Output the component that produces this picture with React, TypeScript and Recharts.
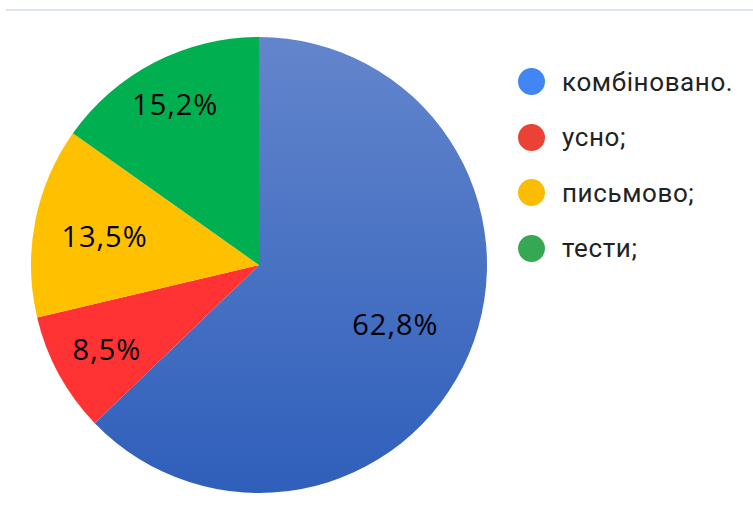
import { PieChart, Pie, Cell, Legend } from "recharts"

const categories = ["комбіновано.", "усно;", "письмово;", "тести;"]
const shares = [62.8, 8.5, 13.5, 15.2]

const SLICE_FILLS = ["url(#blueFade)", "#ff3333", "#ffc000", "#00b050"]
const LEGEND_COLORS = ["#4285f4", "#ea4335", "#fbbc04", "#34a853"]
// label distance from centre, as a share of the radius (Excel best-fit placement)
const LABEL_RADIUS = [0.65, 0.76, 0.69, 0.8]

const data = categories.map((name, i) => ({ name, value: shares[i] }))

const RADIAN = Math.PI / 180

const renderLabel = (props: any) => {
  const { cx, cy, midAngle, outerRadius, value, index } = props
  const r = outerRadius * LABEL_RADIUS[index]
  const x = cx + r * Math.cos(-midAngle * RADIAN)
  const y = cy + r * Math.sin(-midAngle * RADIAN)
  return (
    <text
      x={x}
      y={y}
      fill="#000"
      textAnchor="middle"
      dominantBaseline="central"
      fontFamily="'Open Sans', sans-serif"
      fontSize={29}
      letterSpacing={1}
    >
      {`${value.toFixed(1).replace(".", ",")}%`}
    </text>
  )
}

const renderLegend = () => (
  <div style={{ fontFamily: "Roboto, sans-serif" }}>
    {categories.map((name, i) => (
      <div key={name} style={{ display: "flex", alignItems: "center", height: 55.5 }}>
        <span
          style={{
            width: 27,
            height: 27,
            borderRadius: "50%",
            background: LEGEND_COLORS[i],
            display: "inline-block",
            marginRight: 17,
          }}
        />
        <span style={{ fontSize: 26, color: "#222", letterSpacing: 0.6 }}>{name}</span>
      </div>
    ))}
  </div>
)

export default function App() {
  return (
    <div style={{ position: "absolute", left: 0, top: 0, width: 753, height: 510, background: "#fff" }}>
      <div style={{ position: "absolute", left: 6, top: 9, width: 747, height: 2, background: "#dfe5ef" }} />
      <PieChart width={753} height={510} margin={{ top: 0, right: 0, bottom: 0, left: 0 }}>
        <defs>
          <linearGradient id="blueFade" x1="0" y1="0" x2="0" y2="1">
            <stop offset="0%" stopColor="#6385cc" />
            <stop offset="100%" stopColor="#2f5fbb" />
          </linearGradient>
        </defs>
        <Pie
          data={data}
          dataKey="value"
          cx={259}
          cy={265}
          outerRadius={228}
          startAngle={90}
          endAngle={-270}
          stroke="none"
          labelLine={false}
          label={renderLabel}
          isAnimationActive={false}
        >
          {data.map((entry, index) => (
            <Cell key={`cell-${index}`} fill={SLICE_FILLS[index]} />
          ))}
        </Pie>
        <Legend
          layout="vertical"
          content={renderLegend}
          wrapperStyle={{ left: 518, top: 54, width: 235 }}
        />
      </PieChart>
    </div>
  )
}
